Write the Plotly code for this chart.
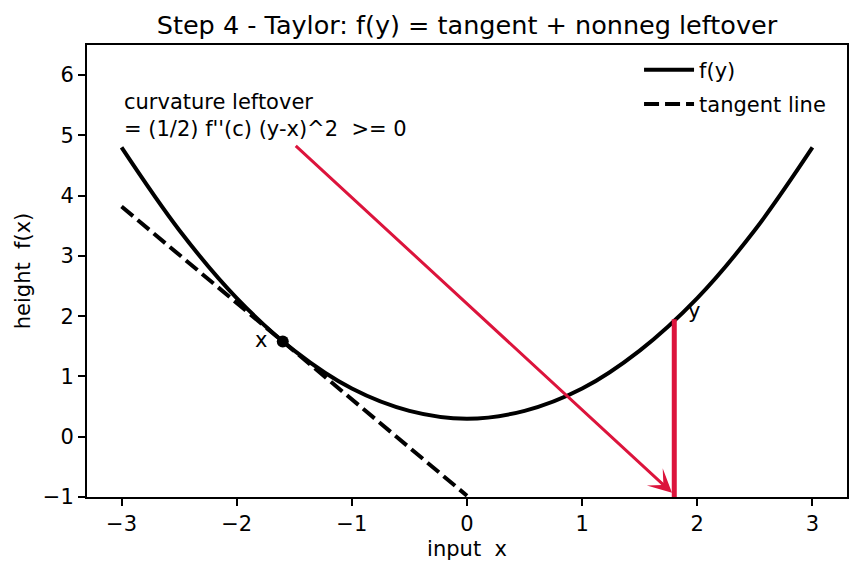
import plotly.graph_objects as go

# curve f(y)
curve_x = [-3.0, -2.5, -2.0, -1.5, -1.0, -0.5, 0.0, 0.5, 1.0, 1.5, 2.0, 2.5, 3.0]
curve_y = [4.80, 3.43, 2.30, 1.43, 0.80, 0.43, 0.30, 0.43, 0.80, 1.43, 2.30, 3.43, 4.80]

# tangent line at x = -1.6
tangent_x = [-3.0, 0.0]
tangent_y = [3.82, -0.98]

# expansion point
point_x = [-1.6]
point_y = [1.58]

# leftover gap at y = 1.8
gap_x = [1.8, 1.8]
gap_y = [-3.86, 1.95]

# arrow (tail -> head)
arrow_tail = (-1.5, 4.85)
arrow_head = (1.78, -0.93)

x_ticks = [-3, -2, -1, 0, 1, 2, 3]
x_tick_text = ["\u22123", "\u22122", "\u22121", "0", "1", "2", "3"]
y_ticks = [-1, 0, 1, 2, 3, 4, 5, 6]
y_tick_text = ["\u22121", "0", "1", "2", "3", "4", "5", "6"]

RED = "#DC143C"
FONT = "DejaVu Sans"
FS = 21

fig = go.Figure()
fig.add_trace(go.Scatter(x=curve_x, y=curve_y, mode="lines", name="f(y)", legendgroup="a",
                         line=dict(color="black", width=4, shape="spline")))
fig.add_trace(go.Scatter(x=tangent_x, y=tangent_y, mode="lines", name="tangent line", legendgroup="b",
                         line=dict(color="black", width=4, dash="15px,6px")))
fig.add_trace(go.Scatter(x=gap_x, y=gap_y, mode="lines", showlegend=False,
                         line=dict(color=RED, width=5)))
fig.add_trace(go.Scatter(x=point_x, y=point_y, mode="markers", showlegend=False,
                         marker=dict(color="black", size=12)))

fig.add_annotation(x=arrow_head[0], y=arrow_head[1], ax=arrow_tail[0], ay=arrow_tail[1],
                   xref="x", yref="y", axref="x", ayref="y", text="", showarrow=True,
                   arrowhead=3, arrowsize=1.3, arrowwidth=3, arrowcolor=RED)

fig.add_annotation(x=-3.0, y=4.88, xref="x", yref="y", xanchor="left", yanchor="bottom",
                   text="curvature leftover<br>= (1/2) f''(c) (y-x)^2 \u00a0>= 0",
                   showarrow=False, align="left", font=dict(size=FS, color="black", family=FONT))
fig.add_annotation(x=-1.72, y=1.6, xref="x", yref="y", xanchor="right", yanchor="middle",
                   text="x", showarrow=False, font=dict(size=FS, color="black", family=FONT))
fig.add_annotation(x=1.9, y=2.08, xref="x", yref="y", xanchor="left", yanchor="middle",
                   text="y", showarrow=False, font=dict(size=FS, color="black", family=FONT))

axis_common = dict(showline=True, mirror=True, linecolor="black", linewidth=2,
                   ticks="outside", ticklen=7, tickwidth=1.6, tickcolor="black",
                   showgrid=False, zeroline=False,
                   tickfont=dict(size=FS, color="black", family=FONT))

fig.update_xaxes(range=[-3.3, 3.3], tickvals=x_ticks, ticktext=x_tick_text,
                 title=dict(text="input\u00a0 x", font=dict(size=FS, color="black", family=FONT), standoff=6),
                 **axis_common)
fig.update_yaxes(range=[-1, 6.5], tickvals=y_ticks, ticktext=y_tick_text,
                 title=dict(text="height\u00a0 f(x)", font=dict(size=FS, color="black", family=FONT), standoff=6),
                 **axis_common)

fig.update_layout(
    width=860, height=573,
    margin=dict(l=87, r=13, t=45, b=76),
    paper_bgcolor="white", plot_bgcolor="white",
    font=dict(family=FONT, color="black"),
    title=dict(text="Step 4 - Taylor: f(y) = tangent + nonneg leftover",
               x=0.543, xanchor="center", y=1 - 25 / 573, yanchor="middle", yref="container",
               font=dict(size=25.5, color="black", family=FONT)),
    legend=dict(x=0.979, y=0.99, xanchor="right", yanchor="top",
                bgcolor="rgba(255,255,255,0)", font=dict(size=FS, color="black", family=FONT),
                itemwidth=50, tracegroupgap=4),
    showlegend=True,
)

fig.write_html("out.html")
